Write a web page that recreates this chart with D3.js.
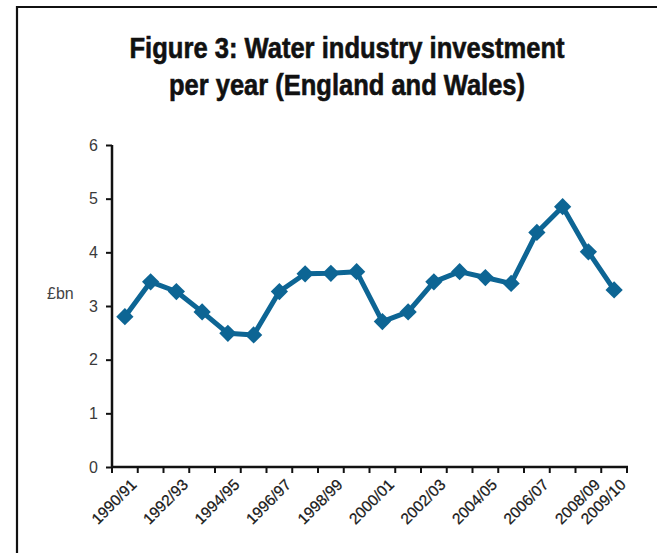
<!DOCTYPE html>
<html>
<head>
<meta charset="utf-8">
<script src="https://cdn.jsdelivr.net/npm/d3@7"></script>
<style>
  html, body { margin: 0; padding: 0; background: #fff; }
  svg { display: block; }
</style>
</head>
<body>
<svg id="chart" width="657" height="553"></svg>
<script>
const categories = ["1990/91","1991/92","1992/93","1993/94","1994/95","1995/96","1996/97","1997/98","1998/99","1999/00",
  "2000/01","2001/02","2002/03","2003/04","2004/05","2005/06","2006/07","2007/08","2008/09","2009/10"];
const investment = [2.80, 3.45, 3.27, 2.89, 2.49, 2.46, 3.27, 3.60, 3.61, 3.64,
  2.71, 2.89, 3.45, 3.64, 3.53, 3.42, 4.37, 4.85, 4.01, 3.30];
const shownLabels = ["1990/91","1992/93","1994/95","1996/97","1998/99","2000/01","2002/03","2004/05","2006/07","2008/09","2009/10"];
const yTicks = [0, 1, 2, 3, 4, 5, 6];
const titleLines = ["Figure 3: Water industry investment", "per year (England and Wales)"];
const yLabel = "£bn";

const svg = d3.select("#chart");

// frame
svg.append("path")
  .attr("d", "M17,560 L17,7 L670,7")
  .attr("fill", "none").attr("stroke", "#111").attr("stroke-width", 2.2);

// title (condensed bold)
const titleFont = "'Liberation Sans', Arial, sans-serif";
const titleSpecs = [{ y: 58, w: 435 }, { y: 95, w: 356 }];
titleLines.forEach((t, i) => {
  svg.append("text")
    .attr("x", 347).attr("y", titleSpecs[i].y)
    .attr("text-anchor", "middle")
    .attr("textLength", titleSpecs[i].w)
    .attr("lengthAdjust", "spacingAndGlyphs")
    .style("font-family", titleFont)
    .style("font-weight", "bold")
    .style("font-size", "29px")
    .attr("fill", "#111")
    .attr("stroke", "#111").attr("stroke-width", 0.6)
    .text(t);
});

const x = d3.scaleBand().domain(categories).range([112, 627]);
const y = d3.scaleLinear().domain([0, 6]).range([467, 145]);

const fontFamily = "'Liberation Sans', Arial, sans-serif";

// y axis
const yAxis = d3.axisLeft(y).tickValues(yTicks).tickSize(6).tickPadding(8).tickFormat(d3.format("d"));
const gy = svg.append("g").attr("transform", "translate(112,0)").call(yAxis);
gy.select(".domain").attr("stroke", "#111").attr("stroke-width", 2.5).attr("d", "M0,145V467");
gy.selectAll(".tick line").attr("stroke", "#111").attr("stroke-width", 2);
gy.selectAll(".tick text").style("font-family", fontFamily).style("font-size", "16px").attr("fill", "#3a3a3a");

// x axis with ticks at band boundaries
const boundaries = categories.map(c => x(c)).concat([x.range()[1]]);
const gx = svg.append("g").attr("transform", "translate(0,467)");
gx.append("line").attr("x1", 111).attr("x2", 628).attr("y1", 0).attr("y2", 0)
  .attr("stroke", "#111").attr("stroke-width", 2.5);
gx.selectAll("line.tk").data(boundaries).enter().append("line").attr("class", "tk")
  .attr("x1", d => d).attr("x2", d => d).attr("y1", 0).attr("y2", 6)
  .attr("stroke", "#111").attr("stroke-width", 2);

gx.selectAll("text.lbl").data(shownLabels).enter().append("text").attr("class", "lbl")
  .attr("transform", d => `translate(${x(d) + x.bandwidth() / 2 + 5},${11}) rotate(-45)`)
  .attr("text-anchor", "end")
  .attr("dy", "0.7em")
  .style("font-family", fontFamily).style("font-size", "15.5px").attr("fill", "#1a1a1a")
  .attr("stroke", "#1a1a1a").attr("stroke-width", 0.25)
  .text(d => d);

// y label
svg.append("text").attr("x", 47).attr("y", 299)
  .style("font-family", fontFamily).style("font-size", "16px").attr("fill", "#444")
  .text(yLabel);

// line
const color = "#0d6594";
const line = d3.line().x((d, i) => x(categories[i]) + x.bandwidth() / 2).y(d => y(d));
svg.append("path").datum(investment)
  .attr("d", line).attr("fill", "none").attr("stroke", color).attr("stroke-width", 5)
  .attr("stroke-linejoin", "round");

const diamond = d3.symbol().type(d3.symbolDiamond2).size(190);
svg.selectAll("path.mk").data(investment).enter().append("path").attr("class", "mk")
  .attr("d", diamond)
  .attr("transform", (d, i) => `translate(${x(categories[i]) + x.bandwidth() / 2},${y(d)})`)
  .attr("fill", color);
</script>
</body>
</html>
